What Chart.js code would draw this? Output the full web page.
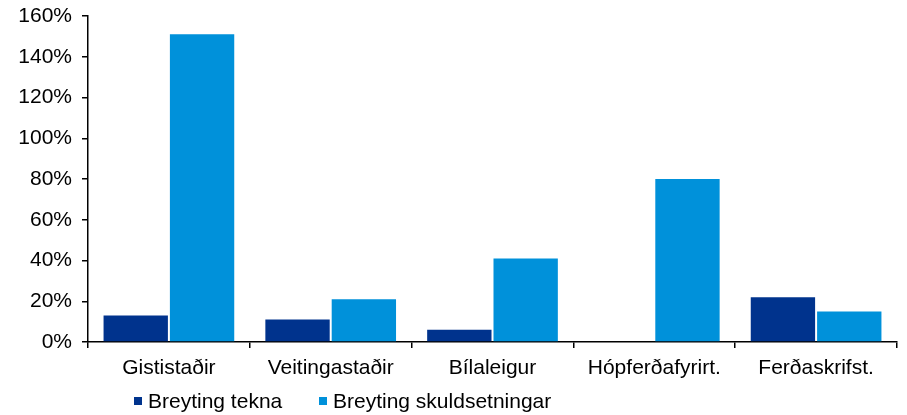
<!DOCTYPE html>
<html>
<head>
<meta charset="utf-8">
<script src="https://cdn.jsdelivr.net/npm/chart.js@4/dist/chart.umd.min.js"></script>
<style>
  html, body { margin: 0; padding: 0; background: #fff; }
  #wrap { position: relative; width: 907px; height: 415px; }
  #legend { position: absolute; left: 134px; top: 389px; height: 24px; font-family: "Liberation Sans", Arial, sans-serif; font-size: 21px; color: #000; white-space: nowrap; }
  .item { position: absolute; top: 0; display: flex; align-items: center; height: 24px; }
  .swatch { width: 8px; height: 8px; margin-right: 6px; display: inline-block; }
</style>
</head>
<body>
<div id="wrap">
  <canvas id="c" width="907" height="415"></canvas>
  <div id="legend"></div>
</div>
<script>
// Categories and series (percent change)
const categories = ["Gististaðir", "Veitingastaðir", "Bílaleigur", "Hópferðafyrirt.", "Ferðaskrifst."];
const revenueChange = [13, 11, 6, 0, 22];
const debtChange = [151, 21, 41, 80, 15];
const seriesNames = ["Breyting tekna", "Breyting skuldsetningar"];
const seriesColors = ["#00338D", "#0091DA"];
const yTicks = [0, 20, 40, 60, 80, 100, 120, 140, 160];

const FONT = "'Liberation Sans', Arial, sans-serif";

new Chart(document.getElementById("c"), {
  type: "bar",
  data: {
    labels: categories,
    datasets: [
      { label: seriesNames[0], data: revenueChange, backgroundColor: seriesColors[0] },
      { label: seriesNames[1], data: debtChange, backgroundColor: seriesColors[1] }
    ]
  },
  options: {
    responsive: false,
    animation: false,
    devicePixelRatio: 1,
    layout: { padding: { top: 16, right: 10, left: 0, bottom: 0 } },
    datasets: { bar: { categoryPercentage: 0.82, barPercentage: 0.97 } },
    plugins: { legend: { display: false }, tooltip: { enabled: false } },
    scales: {
      x: {
        grid: { display: true, drawOnChartArea: false, offset: true, color: "#000", lineWidth: 1.5, tickLength: 6 },
        border: { color: "#000", width: 1.5 },
        ticks: { color: "#000", font: { family: FONT, size: 21 }, padding: 8, maxRotation: 0 },
        afterFit: s => { s.height = 73; s.paddingLeft = 0; s.paddingRight = 0; }
      },
      y: {
        min: yTicks[0],
        max: yTicks[yTicks.length - 1],
        afterBuildTicks: s => { s.ticks = yTicks.map(v => ({ value: v })); },
        grid: { display: true, drawOnChartArea: false, color: "#000", lineWidth: 1.5, tickLength: 6 },
        border: { color: "#000", width: 1.5 },
        ticks: { color: "#000", font: { family: FONT, size: 21 }, padding: 10, callback: v => v + "%" },
        afterFit: s => { s.width = 88; s.paddingTop = 0; s.paddingBottom = 0; }
      }
    }
  }
});

// Legend below the plot
const legend = document.getElementById("legend");
const offsets = [0, 185];
seriesNames.forEach((name, i) => {
  const item = document.createElement("div");
  item.className = "item";
  item.style.left = offsets[i] + "px";
  const sw = document.createElement("span");
  sw.className = "swatch";
  sw.style.background = seriesColors[i];
  item.appendChild(sw);
  item.appendChild(document.createTextNode(name));
  legend.appendChild(item);
});
</script>
</body>
</html>
